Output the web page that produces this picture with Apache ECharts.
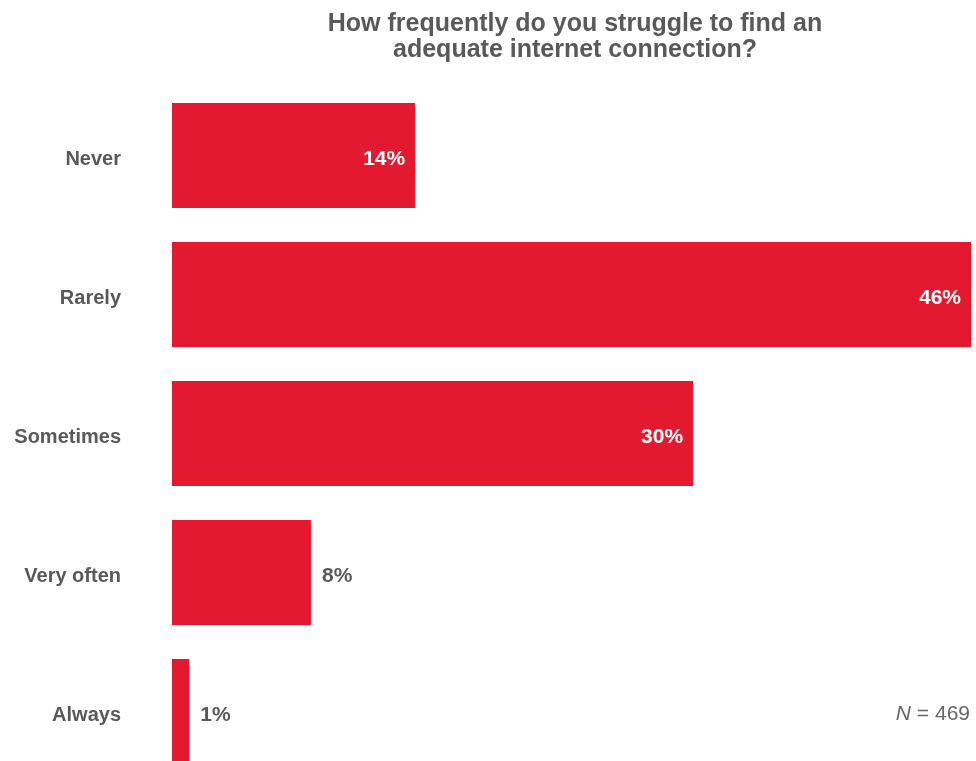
<!DOCTYPE html>
<html>
<head>
<meta charset="utf-8">
<script src="https://cdn.jsdelivr.net/npm/echarts@6/dist/echarts.min.js"></script>
<style>
  html, body { margin: 0; padding: 0; background: #fff; }
  #chart { width: 976px; height: 761px; }
</style>
</head>
<body>
<div id="chart"></div>
<script>
// Survey answers, top to bottom
const categories = ['Never', 'Rarely', 'Sometimes', 'Very often', 'Always'];
const shares = [14, 46, 30, 8, 1];
// Bars wide enough to hold their label inside
const insideLabel = [true, true, true, false, false];
const sampleSize = 469;

const red = '#E2192F';
const grey = '#595959';
const font = '"Liberation Sans", Arial, sans-serif';

const data = shares.map((v, i) => ({
  value: v,
  label: insideLabel[i]
    ? { position: 'insideRight', color: '#ffffff', distance: 10 }
    : { position: 'right', color: grey, distance: 11 }
}));

const chart = echarts.init(document.getElementById('chart'), null, { renderer: 'canvas' });
chart.setOption({
  animation: false,
  backgroundColor: '#ffffff',
  title: {
    text: 'How frequently do you struggle to find an\nadequate internet connection?',
    left: 570,
    top: 6,
    textAlign: 'center',
    textStyle: {
      fontFamily: font,
      fontSize: 25,
      fontWeight: 'bold',
      color: grey,
      lineHeight: 26
    }
  },
  // the last band runs past the bottom edge of the canvas
  grid: { left: 172, top: 86, width: 799, height: 695, outerBoundsMode: 'none', containLabel: false },
  xAxis: {
    type: 'value',
    min: 0,
    max: 46,
    show: false
  },
  yAxis: {
    type: 'category',
    inverse: true,
    data: categories,
    axisLine: { show: false },
    axisTick: { show: false },
    axisLabel: {
      margin: 51,
      formatter: (v) => '{c|' + v + '}',
      rich: {
        c: {
          padding: [8, 0, 0, 0],
          fontFamily: font,
          fontSize: 20,
          fontWeight: 'bold',
          color: grey
        }
      }
    }
  },
  series: [{
    type: 'bar',
    data: data,
    barWidth: 105,
    itemStyle: { color: red },
    label: {
      show: true,
      formatter: '{c}%',
      offset: [0, 4],
      fontFamily: font,
      fontSize: 21,
      fontWeight: 'bold'
    }
  }],
  graphic: [{
    type: 'text',
    right: 6,
    top: 704,
    style: {
      text: '{n|N} = ' + sampleSize,
      rich: { n: { fontStyle: 'italic', fontFamily: font, fontSize: 21, fill: '#666666' } },
      font: '21px ' + font,
      fill: '#666666'
    }
  }]
});
</script>
</body>
</html>
